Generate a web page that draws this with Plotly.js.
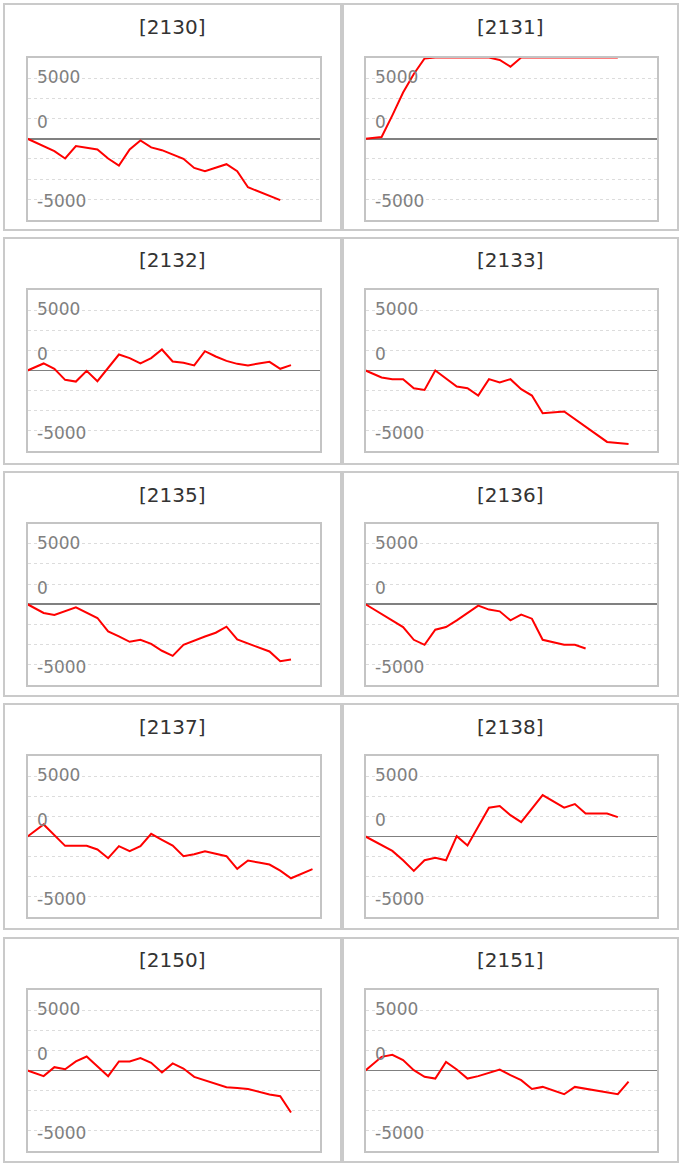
<!DOCTYPE html>
<html>
<head>
<meta charset="utf-8">
<script src="https://cdn.plot.ly/plotly-3.0.1.min.js"></script>
<style>
  html, body { margin: 0; padding: 0; background: #ffffff; }
  #chart { width: 684px; height: 1168px; }
</style>
</head>
<body>
<div id="chart"></div>
<script>
// ---- data ----
const panelNames = ["[2130]", "[2131]", "[2132]", "[2133]", "[2135]", "[2136]", "[2137]", "[2138]", "[2150]", "[2151]"];
const days = [0, 1.5, 2.5, 3.5, 4.5, 5.5, 6.5, 7.5, 8.5, 9.5, 10.5, 11.5, 12.5, 13.5, 14.5, 15.5, 16.5, 17.5, 18.5, 19.5, 20.5, 21.5, 22.5, 23.5, 24.5, 25.5, 26.5];
const tickLabels = ["5000", "0", "-5000"];

const v2130 = [0, null, -1230, -1960, -730, null, -1060, -1960, -2660, -1060, -170, -860, -1130, -1560, -1990, -2890, -3220, null, -2520, -3220, -4810, null, null, -6080];
const v2131 = [0, 170, 2320, 4580, 6410, 7950, 8040, 8040, 8040, 8040, 8040, 8040, 7800, 7140, 8040, 8040, 8040, 8040, 8040, 8040, 8040, 8040, 8040, 8040];
const v2132 = [0, 700, 170, -930, -1100, -30, -1060, null, 1590, 1230, 700, 1230, 2090, 900, 760, 500, 1920, 1390, 960, 660, 500, 700, 860, 170, 530];
const v2133 = [0, -700, -860, -860, -1760, -1930, 0, -760, -1590, -1760, -2490, -860, -1200, -860, -1860, -2490, -4250, null, -4080, null, null, null, -7100, null, -7300];
const v2135 = [0, -860, -1060, null, -300, null, -1360, -2690, -3190, -3720, -3520, -3920, -4610, -5110, -4020, -3590, -3190, -2820, -2220, -3490, -3890, -4250, -4680, -5650, -5480];
const v2136 = [0, null, null, -2260, -3520, -4020, -2520, -2260, -1590, -860, -130, -530, -700, -1590, -1030, -1430, -3520, null, -4020, -4020, -4380];
const v2137 = [0, 1200, null, -930, -930, -930, -1290, -2160, -960, -1460, -960, 270, -330, -900, -1960, -1760, -1460, -1730, -1960, -3220, -2390, -2590, -2790, -3390, -4150, null, -3250];
const v2138 = [0, null, -1430, -2360, -3420, -2360, -2120, -2360, 30, -900, null, 2860, 3020, 2120, 1430, null, 4120, null, 2860, 3220, 2290, null, 2290, 1930];
const v2150 = [0, -560, 330, 130, 900, 1390, null, -560, 900, 900, 1230, 760, -200, 700, 200, -630, -960, null, -1660, -1730, -1830, null, -2390, -2560, -4180];
const v2151 = [0, 1360, 1560, 1030, 30, -630, -800, 860, 100, -800, -560, null, 100, -460, -960, -1830, -1630, null, -2360, -1630, null, null, null, -2360, -1100];

const series = [v2130, v2131, v2132, v2133, v2135, v2136, v2137, v2138, v2150, v2151];

// ---- layout geometry (pixels) ----
const W = 684, H = 1168;
const px = x => x / W;
const py = y => 1 - y / H;
const colOuter = [[4, 341], [343, 678]];
const colPlot = [[27.5, 319.5], [365.5, 657]];
const rowOuter = [[4, 230], [238, 464], [472, 696], [704, 929], [938, 1162]];
const rowPlot = [[58, 219.5], [290, 451], [523.5, 685], [756, 917], [990, 1151]];
const titleY = [26.5, 260, 495, 726.5, 960];
const labelAt = [6100, 1650, -6200];

const traces = [];
const layout = {
  width: W, height: H,
  margin: {l: 0, r: 0, t: 0, b: 0},
  paper_bgcolor: "#ffffff",
  plot_bgcolor: "#ffffff",
  showlegend: false,
  shapes: [],
  annotations: []
};

series.forEach((vals, i) => {
  const n = i + 1;
  const col = i % 2, row = Math.floor(i / 2);
  const xa = n === 1 ? "x" : "x" + n;
  const ya = n === 1 ? "y" : "y" + n;
  const xk = n === 1 ? "xaxis" : "xaxis" + n;
  const yk = n === 1 ? "yaxis" : "yaxis" + n;

  traces.push({
    type: "scatter", mode: "lines",
    x: days.slice(0, vals.length), y: vals,
    connectgaps: true,
    line: {color: "#ff0000", width: 2},
    xaxis: xa, yaxis: ya,
    hoverinfo: "skip"
  });

  layout[xk] = {
    domain: [px(colPlot[col][0]), px(colPlot[col][1])],
    anchor: ya,
    range: [0, 27.15],
    showgrid: false, zeroline: false, showticklabels: false, ticks: "",
    showline: true, mirror: true, linecolor: "#c4c4c4", linewidth: 2,
    fixedrange: true
  };
  layout[yk] = {
    domain: [py(rowPlot[row][1]), py(rowPlot[row][0])],
    anchor: xa,
    range: [-8000, 8000],
    tick0: 0, dtick: 2000,
    showgrid: true, gridcolor: "#dcdcdc", griddash: "dot", gridwidth: 1,
    showticklabels: false, ticks: "",
    zeroline: true, zerolinecolor: "#808080", zerolinewidth: 1.6,
    showline: true, mirror: true, linecolor: "#c4c4c4", linewidth: 2,
    fixedrange: true
  };

  // outer panel frame
  layout.shapes.push({
    type: "rect", xref: "paper", yref: "paper",
    x0: px(colOuter[col][0]), x1: px(colOuter[col][1]),
    y0: py(rowOuter[row][1]), y1: py(rowOuter[row][0]),
    line: {color: "#cacaca", width: 2}, fillcolor: "rgba(0,0,0,0)", layer: "below"
  });

  // panel title
  layout.annotations.push({
    xref: "paper", yref: "paper",
    x: px((colOuter[col][0] + colOuter[col][1]) / 2), y: py(titleY[row]),
    xanchor: "center", yanchor: "middle",
    text: panelNames[i], showarrow: false,
    font: {family: "DejaVu Sans", size: 20, color: "#333333"}
  });

  // y tick labels drawn inside the plot box
  tickLabels.forEach((t, k) => {
    layout.annotations.push({
      xref: xa + " domain", yref: ya,
      x: 0, y: labelAt[k], xanchor: "left", yanchor: "middle", xshift: 7,
      text: t, showarrow: false,
      font: {family: "DejaVu Sans", size: 17, color: "#808080"}
    });
  });
});

Plotly.newPlot("chart", traces, layout, {staticPlot: true, displayModeBar: false});
</script>
</body>
</html>
